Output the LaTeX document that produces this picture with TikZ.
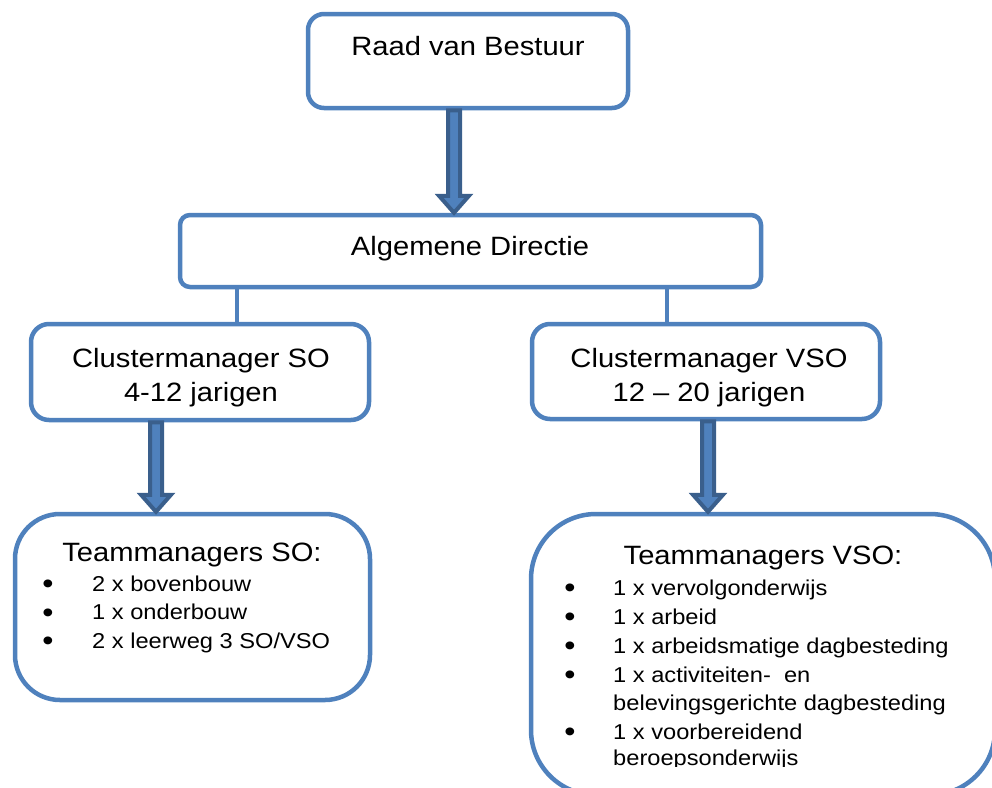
\documentclass[tikz,border=0pt]{standalone}
\usepackage{fontspec}
\setmainfont{Liberation Sans}[FakeStretch=1.1]
\usetikzlibrary{calc}
\definecolor{boxblue}{HTML}{4F81BD}
\definecolor{arrdark}{HTML}{3A5F8C}
\tikzset{
  orgbox/.style={draw=boxblue, line width=4.5pt, fill=white, rectangle, inner sep=0pt},
  conn/.style={draw=boxblue, line width=4.5pt},
  barrow/.style={fill=boxblue, draw=arrdark, line width=4pt, line join=miter},
  title/.style={inner sep=0pt, font=\fontsize{26.5}{30}\selectfont},
  item/.style={inner sep=0pt, font=\fontsize{21.5}{26}\selectfont},
  bul/.style={inner sep=0pt, font=\fontsize{29}{30}\selectfont, yshift=-2.5pt},
}
\newcommand\blockarrow[2]{\draw[barrow] let \p1=(#1), \p2=(#2) in
  (\x1-6pt,\y1) -- (\x1-6pt,\y2+17pt) -- (\x1-15pt,\y2+17pt) -- (\x1,\y2) --
  (\x1+15pt,\y2+17pt) -- (\x1+6pt,\y2+17pt) -- (\x1+6pt,\y1) -- cycle;}
\begin{document}
\begin{tikzpicture}[x=1pt,y=-1pt]
\useasboundingbox (0,0) rectangle (992,787);
% boxes
\node[orgbox, rounded corners=16pt, minimum width=320pt, minimum height=94pt] (b1) at (468,61) {};
\node[orgbox, rounded corners=10pt, minimum width=581pt, minimum height=72pt] (b2) at (470.5,251) {};
\node[orgbox, rounded corners=18pt, minimum width=338pt, minimum height=96pt] (b3) at (200,372) {};
\node[orgbox, rounded corners=18pt, minimum width=348pt, minimum height=95pt] (b4) at (706,371.5) {};
\node[orgbox, rounded corners=45pt, minimum width=355pt, minimum height=186pt] (b5) at (192.5,607) {};
\node[orgbox, rounded corners=65pt, minimum width=464pt, minimum height=281pt] (b6) at (763,654.5) {};
% connector positions
\coordinate (c1) at (237,0);
\coordinate (c2) at (667,0);
\coordinate (a1) at (454,0);
\coordinate (a2) at (156,0);
\coordinate (a3) at (708,0);
\draw[conn] (b2.south -| c1) -- (b3.north -| c1);
\draw[conn] (b2.south -| c2) -- (b4.north -| c2);
\blockarrow{b1.south -| a1}{b2.north -| a1}
\blockarrow{b3.south -| a2}{b5.north -| a2}
\blockarrow{b4.south -| a3}{b6.north -| a3}
% texts
\node[title, anchor=base] (t1) at (468,55) {Raad van Bestuur};
\node[title, anchor=base] (t2) at (470,255) {Algemene Directie};
\node[title, anchor=base] (t3a) at (201,367) {Clustermanager SO};
\node[title, anchor=base] (t3b) at (201,401) {4-12 jarigen};
\node[title, anchor=base] (t4a) at (709,367) {Clustermanager VSO};
\node[title, anchor=base] (t4b) at (709,401) {12 – 20 jarigen};
\node[title, anchor=base] (t5) at (192,561) {Teammanagers SO:};
\node[bul, anchor=base] (s1b) at (48,591) {•};
\node[item, anchor=base west] (s1) at (92,591) {2 x bovenbouw};
\node[bul, anchor=base] (s2b) at (48,619.5) {•};
\node[item, anchor=base west] (s2) at (92,619.5) {1 x onderbouw};
\node[bul, anchor=base] (s3b) at (48,648) {•};
\node[item, anchor=base west] (s3) at (92,648) {2 x leerweg 3 SO/VSO};
\node[title, anchor=base] (t6) at (763,564) {Teammanagers VSO:};
\node[bul, anchor=base] (v1b) at (570,595) {•};
\node[item, anchor=base west] (v1) at (613,595) {1 x vervolgonderwijs};
\node[bul, anchor=base] (v2b) at (570,624) {•};
\node[item, anchor=base west] (v2) at (613,624) {1 x arbeid};
\node[bul, anchor=base] (v3b) at (570,653) {•};
\node[item, anchor=base west] (v3) at (613,653) {1 x arbeidsmatige dagbesteding};
\node[bul, anchor=base] (v4b) at (570,682) {•};
\node[item, anchor=base west] (v4) at (613,682) {1 x activiteiten-\ \ en};
\node[item, anchor=base west] (v4c) at (613,710) {belevingsgerichte dagbesteding};
\node[bul, anchor=base] (v5b) at (570,739) {•};
\node[item, anchor=base west] (v5) at (613,739) {1 x voorbereidend};
\begin{scope}
\clip (600,740) rectangle (992,766);
\node[item, anchor=base west] (v5c) at (613,765) {beroepsonderwijs};
\end{scope}
\end{tikzpicture}
\end{document}
